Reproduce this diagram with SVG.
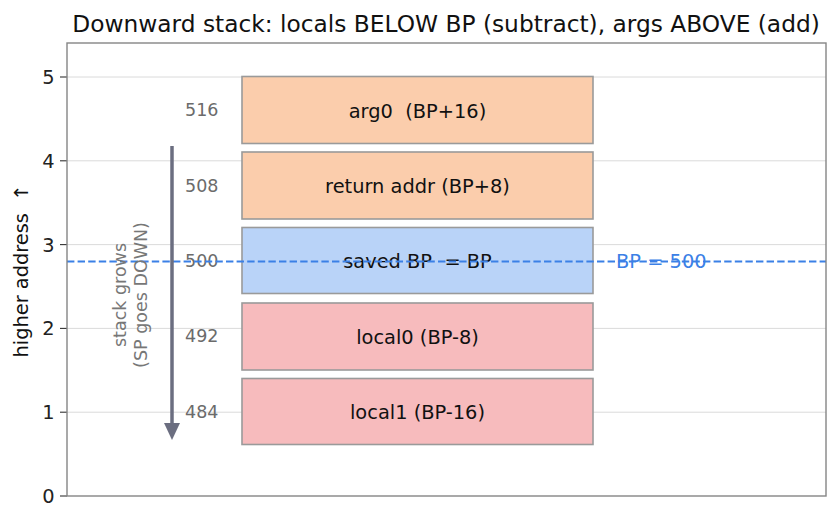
<svg xmlns="http://www.w3.org/2000/svg" width="840" height="521" viewBox="0 0 840 521">
<style>
text{font-family:"DejaVu Sans",sans-serif;white-space:pre;}
.grid{stroke:#d6d6d6;stroke-width:0.9;}
.spine{stroke:#858585;stroke-width:1.4;fill:none;}
.tick{stroke:#333;stroke-width:1.1;}
.tl{font-size:19.4px;fill:#222;text-anchor:end;}
.box{stroke:#9a9a9a;stroke-width:1.6;}
.lbl{font-size:19.4px;fill:#111;text-anchor:middle;}
.addr{font-size:17.5px;fill:#6b6b6b;}
.args{fill:#fbcdac;}
.bp{fill:#b9d3f8;}
.loc{fill:#f7bbbd;}
</style>
<rect width="840" height="521" fill="#fff"/>
<text x="446" y="32" font-size="23.3" fill="#111" text-anchor="middle">Downward stack: locals BELOW BP (subtract), args ABOVE (add)</text>
<g id="grid">
<line class="grid" x1="67" y1="412.2" x2="826" y2="412.2"/>
<line class="grid" x1="67" y1="328.4" x2="826" y2="328.4"/>
<line class="grid" x1="67" y1="244.6" x2="826" y2="244.6"/>
<line class="grid" x1="67" y1="160.8" x2="826" y2="160.8"/>
<line class="grid" x1="67" y1="77" x2="826" y2="77"/>
</g>
<g id="yaxis">
<line class="tick" x1="60" y1="496" x2="67" y2="496"/>
<line class="tick" x1="60" y1="412.2" x2="67" y2="412.2"/>
<line class="tick" x1="60" y1="328.4" x2="67" y2="328.4"/>
<line class="tick" x1="60" y1="244.6" x2="67" y2="244.6"/>
<line class="tick" x1="60" y1="160.8" x2="67" y2="160.8"/>
<line class="tick" x1="60" y1="77" x2="67" y2="77"/>
<text class="tl" x="54.5" y="503">0</text>
<text class="tl" x="54.5" y="419.2">1</text>
<text class="tl" x="54.5" y="335.4">2</text>
<text class="tl" x="54.5" y="251.6">3</text>
<text class="tl" x="54.5" y="167.8">4</text>
<text class="tl" x="54.5" y="84">5</text>
<text x="0" y="0" font-size="19.4" fill="#111" text-anchor="middle" transform="translate(28 271) rotate(-90)">higher address  ↑</text>
</g>
<g id="node-arg0">
<rect class="box args" x="242" y="76.5" width="351" height="67"/>
<text class="lbl" x="417.5" y="117.5">arg0  (BP+16)</text>
<text class="addr" x="185" y="116">516</text>
</g>
<g id="node-ret">
<rect class="box args" x="242" y="152" width="351" height="67"/>
<text class="lbl" x="417.5" y="193">return addr (BP+8)</text>
<text class="addr" x="185" y="191.5">508</text>
</g>
<g id="node-savedbp">
<rect class="box bp" x="242" y="227.5" width="351" height="66"/>
<text class="lbl" x="417.5" y="268.4">saved BP  = BP</text>
<text class="addr" x="185" y="267">500</text>
</g>
<g id="node-local0">
<rect class="box loc" x="242" y="303" width="351" height="67"/>
<text class="lbl" x="417.5" y="343.8">local0 (BP-8)</text>
<text class="addr" x="185" y="342.4">492</text>
</g>
<g id="node-local1">
<rect class="box loc" x="242" y="378.5" width="351" height="66"/>
<text class="lbl" x="417.5" y="419.2">local1 (BP-16)</text>
<text class="addr" x="185" y="417.8">484</text>
</g>
<g id="connectors">
<line x1="67" y1="261.4" x2="826" y2="261.4" stroke="#3b80e6" stroke-width="2" stroke-dasharray="7.4,3.2"/>
<line x1="172" y1="146" x2="172" y2="425" stroke="#6b6e80" stroke-width="3.5"/>
<polygon points="164,423 180,423 172,440" fill="#6b6e80"/>
</g>
<g id="labels">
<text x="616" y="268.4" font-size="19.4" fill="#3b80e6">BP = 500</text>
<text font-size="17.5" fill="#777" text-anchor="middle" transform="translate(126 295) rotate(-90)"><tspan x="0" y="0">stack grows</tspan><tspan x="0" y="21">(SP goes DOWN)</tspan></text>
</g>
<rect class="spine" x="67" y="43" width="759" height="453"/>
</svg>
